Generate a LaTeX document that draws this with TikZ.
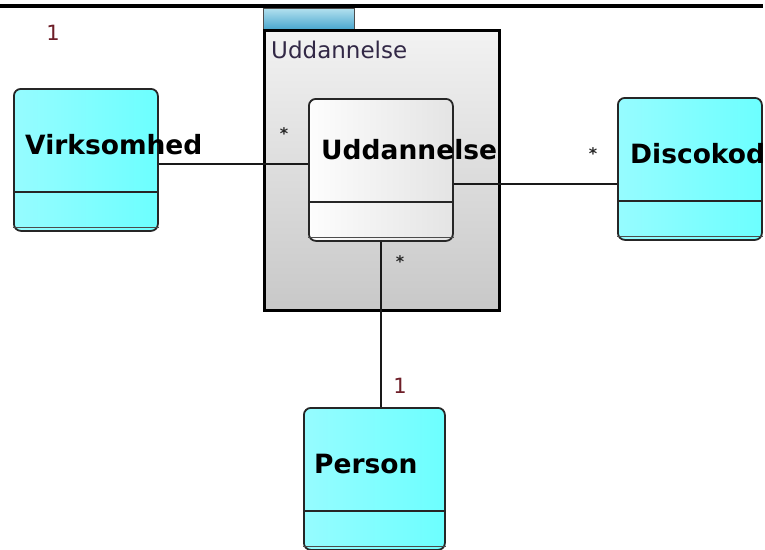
\documentclass[tikz,border=0pt]{standalone}
\usepackage{fontspec}
\setmainfont{DejaVu Sans}
\usepackage{tikz}
\usetikzlibrary{arrows.meta}

\definecolor{clsA}{RGB}{150,252,255}
\definecolor{clsB}{RGB}{108,255,255}
\definecolor{innA}{RGB}{253,253,253}
\definecolor{innB}{RGB}{228,228,228}
\definecolor{pkgA}{RGB}{242,242,242}
\definecolor{pkgB}{RGB}{200,200,200}
\definecolor{tabA}{RGB}{178,224,238}
\definecolor{tabB}{RGB}{72,166,206}
\definecolor{multred}{RGB}{110,30,40}
\definecolor{pkgtxt}{RGB}{50,40,70}

\begin{document}
\begin{tikzpicture}[x=1pt, y=-1pt,
    cls/.style={draw=black!85, line width=1.8pt, rounded corners=7pt, anchor=north west,
                minimum width=144pt, minimum height=142pt, inner sep=0pt,
                left color=clsA, right color=clsB},
    inner/.style={cls, left color=innA, right color=innB},
    pkg/.style={draw=black, line width=3pt, anchor=north west, inner sep=0pt,
                minimum width=235pt, minimum height=280pt, top color=pkgA, bottom color=pkgB},
    tab/.style={draw=black!70, line width=1pt, anchor=north west, inner sep=0pt,
                minimum width=91pt, minimum height=21pt, top color=tabA, bottom color=tabB},
    ttl/.style={anchor=base west, inner sep=0pt, font=\bfseries\fontsize{26.5}{30}\selectfont},
    pkglbl/.style={anchor=base west, inner sep=0pt, text=pkgtxt, font=\fontsize{23}{26}\selectfont},
    mult/.style={inner sep=0pt, text=multred, font=\fontsize{21}{24}\selectfont},
    star/.style={inner sep=0pt, text=black!85, font=\bfseries\fontsize{16}{18}\selectfont},
    assoc/.style={draw=black!90, line width=1.8pt}]

    \clip (0,0) rectangle (765,549);
    \fill[white] (0,0) rectangle (765,549);
    \draw[line width=4pt] (0,6) -- (763,6);

    % package
    \node[tab] (tab) at (263,8) {};
    \node[pkg] (pkg) at (263,29) {};
    \node[pkglbl] (pkgT) at (271,58) {Uddannelse};

    % classes
    \node[cls] (virk) at (13,88) {};
    \node[inner] (udd) at (308,98) {};
    \node[cls] (disco) at (617,97) {};
    \node[cls, minimum width=141pt] (pers) at (303,407) {};

    \foreach \n in {virk,udd,disco,pers}{
        \draw[line width=1.8pt, black!85] ([yshift=40pt]\n.south west) -- ([yshift=40pt]\n.south east);
        \draw[line width=1.2pt, black!70] ([yshift=4pt]\n.south west) -- ([yshift=4pt]\n.south east);
    }

    % associations
    \draw[assoc] ([yshift=-4pt]virk.east) -- ([yshift=-4pt]virk.east -| udd.west);
    \draw[assoc] ([yshift=-14pt]udd.east) -- ([yshift=-14pt]udd.east -| disco.west);
    \draw[assoc] (udd.south) -- (udd.south |- pers.north);

    % names
    \node[ttl] (virkT) at (25,154) {Virksomhed};
    \node[ttl] (uddT) at (321,159) {Uddannelse};
    \node[ttl] (discoT) at (630,163) {Discokode};
    \node[ttl] (persT) at (314,473) {Person};

    % multiplicities
    \node[mult] (m1) at (53,33) {1};
    \node[mult] (m2) at (400,386) {1};
    \node[star] (s1) at (284,134) {*};
    \node[star] (s2) at (593,154) {*};
    \node[star] (s3) at (400,262) {*};
\end{tikzpicture}
\end{document}
